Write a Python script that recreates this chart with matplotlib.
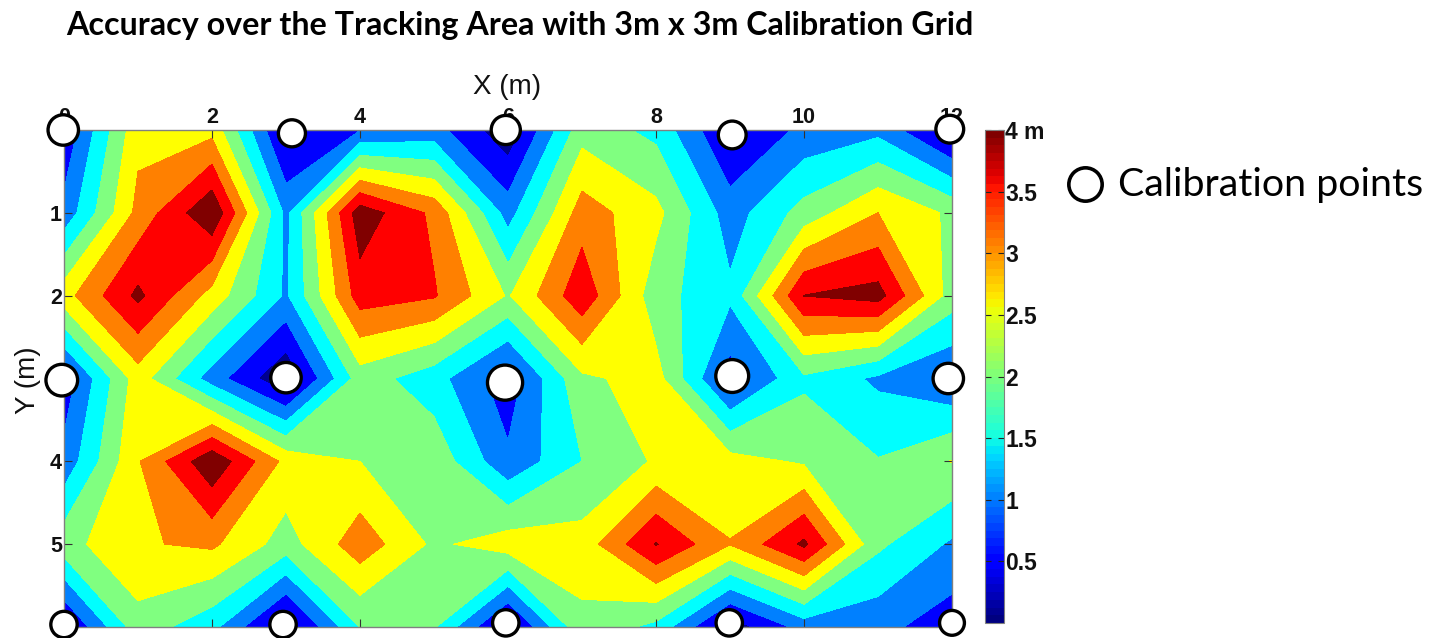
import numpy as np
import matplotlib
matplotlib.use("Agg")
import matplotlib.pyplot as plt
from matplotlib.cm import ScalarMappable
from matplotlib.colors import Normalize
from matplotlib.lines import Line2D

W, H = 1434, 638

x_grid = list(range(13))
y_grid = list(range(7))
row_0 = [.60, 2.85, 2.84, .32, .98, 1.20, .13, 2.29, 1.86, .45, 1.12, 1.35, .25]
row_1 = [1.15, 3.15, 4.44, 1.37, 4.30, 3.38, 1.28, 3.25, 2.65, 1.25, 2.20, 3.00, 2.40]
row_2 = [2.80, 4.12, 2.80, 1.42, 3.75, 3.55, 2.45, 3.85, 2.20, 1.60, 4.01, 4.20, 2.25]
row_3 = [.70, 2.75, 1.25, .05, 2.25, 1.70, .70, 2.40, 2.70, .75, 1.90, 1.40, 1.00]
row_4 = [1.15, 2.96, 4.40, 2.85, 2.50, 2.35, 1.10, 2.00, 2.56, 2.70, 2.43, 2.03, 2.52]
row_5 = [2.30, 2.95, 3.09, 2.27, 3.30, 2.40, 2.78, 2.70, 4.03, 3.02, 4.10, 2.10, 1.42]
row_6 = [.37, 2.29, 1.65, .15, 2.00, 2.05, .25, 2.40, 1.85, .20, 1.20, 1.15, .72]

levels = [0, .5, 1, 1.5, 2, 2.5, 3, 3.5, 4, 5]
band_colors = ['#00008f', '#0000ff', '#0080ff', '#00ffff', '#80ff80',
               '#ffff00', '#ff8000', '#ff0000', '#800000']

cal_x = [-.01, 3.08, 5.97, 9.03, 11.97, -.03, 3.00, 5.96, 9.03, 11.95, 0.0, 2.96, 5.97, 8.99, 12.0]
cal_y = [0.0, .04, 0.0, .06, -.01, 3.02, 2.99, 3.05, 2.97, 3.00, 5.97, 5.97, 5.95, 5.95, 5.95]
cal_area = [480, 380, 440, 400, 400, 520, 480, 640, 560, 480, 360, 360, 360, 360, 320]

x_ticks = [0, 2, 4, 6, 8, 10, 12]
y_ticks = [0, 1, 2, 3, 4, 5]
cbar_ticks = [.5, 1, 1.5, 2, 2.5, 3, 3.5, 4]
cbar_labels = ['0.5', '1', '1.5', '2', '2.5', '3', '3.5', '4 m']

plt.rcParams['font.family'] = ['Liberation Sans', 'DejaVu Sans']
fig = plt.figure(figsize=(W / 100, H / 100), dpi=100)


def box(l, t, r, b):
    return [l / W, 1 - b / H, (r - l) / W, (b - t) / H]


ax = fig.add_axes(box(64, 130, 952, 627))
Z = np.array([row_0, row_1, row_2, row_3, row_4, row_5, row_6])
ax.contourf(x_grid, y_grid, Z, levels=levels, colors=band_colors)
ax.set_xlim(0, 12)
ax.set_ylim(6, 0)
ax.set_xticks(x_ticks)
ax.set_yticks(y_ticks)
ax.xaxis.tick_top()
ax.tick_params(axis='both', direction='in', length=6, width=.8, color='#333333',
               top=True, bottom=True, left=True, right=True,
               labelsize=15.5, pad=1.5, labelcolor='#111111')
for lab in ax.get_xticklabels() + ax.get_yticklabels():
    lab.set_fontweight('bold')
for s in ax.spines.values():
    s.set_color('#808080')
    s.set_linewidth(1)
ax.scatter(cal_x, cal_y, s=cal_area, facecolor='white', edgecolor='black',
           linewidth=2.4, clip_on=False, zorder=5)

cax = fig.add_axes(box(985, 130, 1004, 623))
sm = ScalarMappable(Normalize(0, 4), plt.get_cmap('jet', 64))
cb = fig.colorbar(sm, cax=cax)
cb.set_ticks(cbar_ticks, labels=cbar_labels)
cax.tick_params(axis='y', direction='in', length=4, width=.8, left=True, right=True,
                labelsize=16.5, pad=1, color='#222222', labelcolor='#111111')
for lab in cax.get_yticklabels():
    lab.set_fontweight('bold')
cb.outline.set_edgecolor('#808080')

fig.text(520 / W, 1 - 26 / H, 'Accuracy over the Tracking Area with 3m x 3m Calibration Grid',
         ha='center', va='center', fontsize=23.2, fontweight='bold',
         family=['Lato', 'DejaVu Sans'], color='black')
fig.text(507 / W, 1 - 87 / H, 'X (m)', ha='center', va='center', fontsize=20, color='#111111')
fig.text(28 / W, 1 - 380 / H, 'Y (m)', ha='center', va='center', rotation=90,
         fontsize=20, color='#111111')

fig.add_artist(Line2D([1085 / W], [1 - 184 / H], transform=fig.transFigure, marker='o',
                      markersize=24, markerfacecolor='white', markeredgecolor='black',
                      markeredgewidth=2.6, linestyle='none'))
fig.text(1118 / W, 1 - 185 / H, 'Calibration points', ha='left', va='center', fontsize=28.4,
         family=['Lato', 'DejaVu Sans'], color='black')

fig.savefig('out.png', dpi=100)
